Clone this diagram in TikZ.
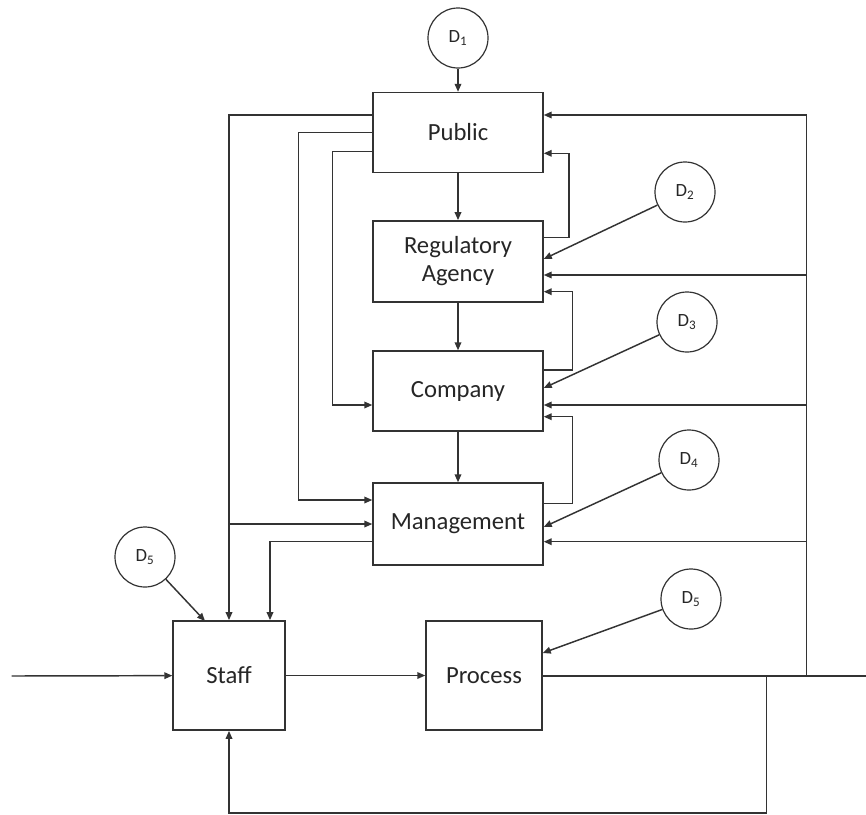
\documentclass[tikz,border=0pt]{standalone}
\usepackage{fontspec}
\setmainfont{Carlito}
\usetikzlibrary{arrows.meta,calc}
\definecolor{ink}{HTML}{333333}
\tikzset{
  x=0.75pt,y=-0.75pt,
  ln/.style={draw=ink,line width=1.1pt},
  arr/.style={ln,-{Triangle[length=6pt,width=5pt]}},
  box/.style={draw=ink,line width=1.1pt,rectangle,align=center,inner sep=2pt,text=black!85,font=\fontsize{18.5}{21}\selectfont},
  dist/.style={draw=ink,line width=0.9pt,circle,minimum size=45pt,inner sep=0pt,text=black!85,font=\fontsize{14}{16}\selectfont},
}
\begin{document}
\begin{tikzpicture}
\useasboundingbox (0,0) rectangle (866,814);
% boxes
\node[box,minimum width=127.5pt,minimum height=60pt] (pub) at (458,132.5) {Public};
\node[box,minimum width=127.5pt,minimum height=61pt] (reg) at (458,261.5) {Regulatory\\Agency};
\node[box,minimum width=127.5pt,minimum height=60pt] (com) at (458,391) {Company};
\node[box,minimum width=127.5pt,minimum height=61.5pt] (man) at (458,524) {Management};
\node[box,minimum width=84pt,minimum height=82pt] (sta) at (229,675.5) {Staff};
\node[box,minimum width=87pt,minimum height=82pt] (pro) at (484,675.5) {Process};
% disturbances
\node[dist] (d1) at (458,38) {D\textsubscript{1}};
\node[dist] (d2) at (685,192) {D\textsubscript{2}};
\node[dist] (d3) at (687,322) {D\textsubscript{3}};
\node[dist] (d4) at (689,460) {D\textsubscript{4}};
\node[dist] (d5a) at (145,557) {D\textsubscript{5}};
\node[dist] (d5b) at (691,599) {D\textsubscript{5}};
% named coordinates
\coordinate (in) at (11.7,676);
\coordinate (out) at (866,676);
\coordinate (rv) at (806.7,676);
\coordinate (fb) at (766.7,676);
\coordinate (fbb) at (766.7,813);
\coordinate (fbl) at (229,813);
\coordinate (l1) at (229,115);
\coordinate (l1b) at (229,524);
\coordinate (l2) at (298.3,132.7);
\coordinate (l2b) at (298.3,500);
\coordinate (l3) at (332.7,151.7);
\coordinate (l3b) at (332.7,405);
\coordinate (l4) at (270,541.7);
\coordinate (s5) at (205,621);
% main chain
\draw[arr] (d1) -- (pub);
\draw[arr] (pub) -- (reg);
\draw[arr] (reg) -- (com);
\draw[arr] (com) -- (man);
\draw[arr] (in) -- (sta);
\draw[arr] (sta) -- (pro);
\draw[ln] (pro.east |- out) -- (out);
% left feeds
\draw[arr] (pub.west |- l1) -- (l1) -- (sta.north -| l1);
\draw[arr] (l1b) -- (man.west |- l1b);
\draw[arr] (pub.west |- l2) -- (l2) -- (l2b) -- (man.west |- l2b);
\draw[arr] (pub.west |- l3) -- (l3) -- (l3b) -- (com.west |- l3b);
\draw[arr] (man.west |- l4) -- (l4) -- (sta.north -| l4);
\draw[arr] (d5a) -- (s5);
% right measurement feedback
\draw[arr] (rv) -- (rv |- l1) -- (pub.east |- l1);
\draw[arr] (rv |- 0,275) -- (reg.east |- 0,275);
\draw[arr] (rv |- 0,405) -- (com.east |- 0,405);
\draw[arr] (rv |- 0,541.7) -- (man.east |- 0,541.7);
% staff feedback
\draw[arr] (fb) -- (fbb) -- (fbl) -- (sta.south);
% loops on the right
\draw[arr] (reg.east |- 0,237.7) -- (569,237.7) -- (569,153.3) -- (pub.east |- 0,153.3);
\draw[arr] (com.east |- 0,370) -- (572.7,370) -- (572.7,291.7) -- (reg.east |- 0,291.7);
\draw[arr] (man.east |- 0,503.3) -- (572.7,503.3) -- (572.7,416.7) -- (com.east |- 0,416.7);
% disturbances on the right
\draw[arr] (d2) -- (reg.east |- 0,259);
\draw[arr] (d3) -- (com.east |- 0,388);
\draw[arr] (d4) -- (man.east |- 0,527);
\draw[arr] (d5b) -- (pro.east |- 0,653);
\end{tikzpicture}
\end{document}
